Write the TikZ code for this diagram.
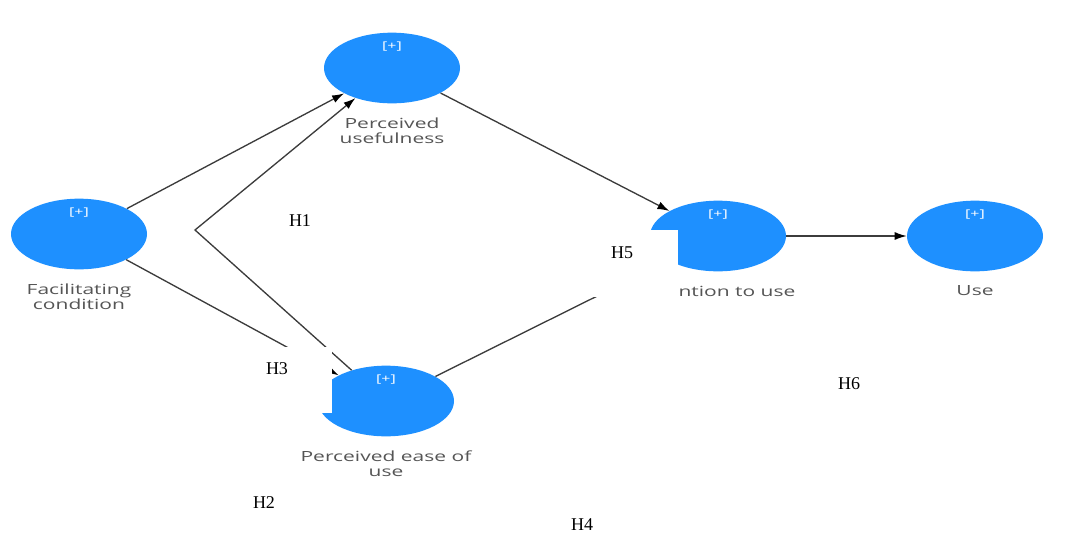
\documentclass[tikz,border=0pt]{standalone}
\usepackage{fontspec}
\setmainfont{Liberation Serif}
\newfontfamily\capfont[FakeStretch=1.5]{Open Sans}
\usetikzlibrary{shapes.geometric,positioning,arrows.meta}
\definecolor{lvblue}{RGB}{30,144,255}
\definecolor{capgray}{RGB}{85,85,85}
\definecolor{pathgray}{RGB}{60,60,60}
\tikzset{
  construct/.style={ellipse, fill=lvblue, draw=none, minimum width=102pt, minimum height=53pt, inner sep=0pt},
  plus/.style={text=white, font=\capfont\fontsize{8}{9}\selectfont, inner sep=0pt},
  caption/.style={text=capgray, font=\capfont\fontsize{10.5}{11}\selectfont, align=center, inner sep=0pt},
  path/.style={draw=pathgray, line width=1pt, -{Latex[length=9pt,width=6pt,color=black]}},
  hyp/.style={font=\fontsize{13.5}{16}\selectfont, inner sep=0pt},
  mask/.style={fill=white, draw=none}
}

\begin{document}
\begin{tikzpicture}[x=0.75pt, y=-0.75pt]
  \useasboundingbox (0,0) rectangle (1072,533);

  % Latent variables
  \node[construct] (fc) at (79,234) {};
  \node[construct] (pu) at (392,68) {};
  \node[construct] (peou) at (386,401) {};
  \node[construct] (itu) at (718,236) {};
  \node[construct] (use) at (975,236) {};

  % Expand markers
  \node[plus] (fc-p) at ([yshift=16pt]fc.center) {[+]};
  \node[plus] (pu-p) at ([yshift=16pt]pu.center) {[+]};
  \node[plus] (peou-p) at ([yshift=16pt]peou.center) {[+]};
  \node[plus] (itu-p) at ([yshift=16pt]itu.center) {[+]};
  \node[plus] (use-p) at ([yshift=16pt]use.center) {[+]};

  % Captions
  \node[caption, below=10.5pt of fc] (fc-l) {Facilitating\\condition};
  \node[caption, below=10.5pt of pu] (pu-l) {Perceived\\usefulness};
  \node[caption, below=10.5pt of peou] (peou-l) {Perceived ease of\\use};
  \node[caption, below=10.5pt of itu] (itu-l) {Intention to use};
  \node[caption, below=10.5pt of use] (use-l) {Use};

  % Paths
  \coordinate (kink) at (195,230); % bend of the ease-of-use path
  \draw[path] (fc) -- (pu);
  \draw[path] (peou) -- (kink) -- (pu);
  \draw[path] (fc) -- (peou);
  \draw[path] (pu) -- (itu);
  \draw[path] (peou) -- (itu);
  \draw[path] (itu) -- (use);

  % White patches
  \fill[mask] (250,347) rectangle (332,413);
  \fill[mask] (585,230) rectangle (678,297);

  % Hypotheses
  \node[hyp] (h1) at (300,221) {H1};
  \node[hyp] (h2) at (264,503) {H2};
  \node[hyp] (h3) at (277,369) {H3};
  \node[hyp] (h4) at (582,525) {H4};
  \node[hyp] (h5) at (622,253) {H5};
  \node[hyp] (h6) at (849,384) {H6};
\end{tikzpicture}
\end{document}
